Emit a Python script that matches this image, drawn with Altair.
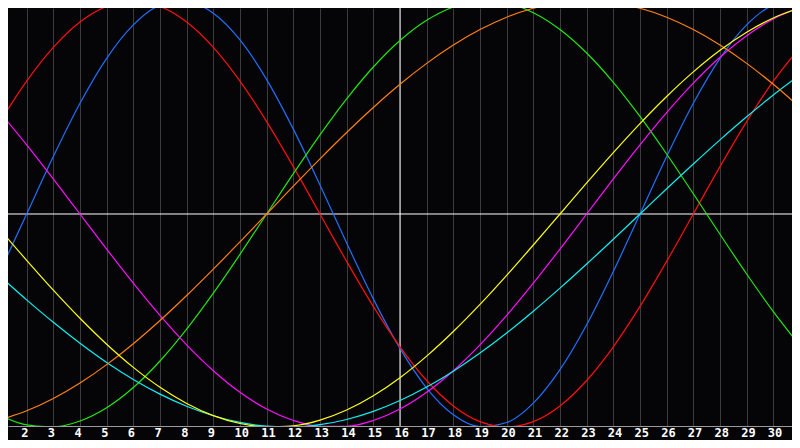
import altair as alt
import pandas as pd

days = list(range(1, 32))

blue = [-0.2698, 0.0, 0.2698, 0.5197, 0.7308, 0.8879, 0.9791, 0.9977, 0.9423, 0.8170,
        0.6311, 0.3984, 0.1362, -0.1362, -0.3984, -0.6311, -0.8170, -0.9423, -0.9977, -0.9791,
        -0.8879, -0.7308, -0.5197, -0.2698, 0.0, 0.2698, 0.5197, 0.7308, 0.8879, 0.9791, 0.9977]

red = [0.4339, 0.6235, 0.7818, 0.9010, 0.9749, 1.0, 0.9749, 0.9010, 0.7818, 0.6235,
       0.4339, 0.2225, 0.0, -0.2225, -0.4339, -0.6235, -0.7818, -0.9010, -0.9749, -1.0,
       -0.9749, -0.9010, -0.7818, -0.6235, -0.4339, -0.2225, 0.0, 0.2225, 0.4339, 0.6235, 0.7818]

green = [-0.9450, -0.9898, -0.9989, -0.9718, -0.9096, -0.8146, -0.6901, -0.5406, -0.3717, -0.1893,
         0.0, 0.1893, 0.3717, 0.5406, 0.6901, 0.8146, 0.9096, 0.9718, 0.9989, 0.9898,
         0.9450, 0.8660, 0.7557, 0.6182, 0.4582, 0.2817, 0.0951, -0.0951, -0.2817, -0.4582, -0.6182]

magenta = [0.4759, 0.3247, 0.1646, 0.0, -0.1646, -0.3247, -0.4759, -0.6142, -0.7357, -0.8372,
           -0.9158, -0.9694, -0.9966, -0.9966, -0.9694, -0.9158, -0.8372, -0.7357, -0.6142, -0.4759,
           -0.3247, -0.1646, 0.0, 0.1646, 0.3247, 0.4759, 0.6142, 0.7357, 0.8372, 0.9158, 0.9694]

yellow = [-0.0730, -0.2174, -0.3572, -0.4894, -0.6112, -0.7200, -0.8135, -0.8894, -0.9465, -0.9834,
          -0.9993, -0.9940, -0.9675, -0.9204, -0.8533, -0.7684, -0.6671, -0.5517, -0.4245, -0.2881,
          -0.1456, 0.0, 0.1456, 0.2881, 0.4245, 0.5517, 0.6671, 0.7684, 0.8533, 0.9204, 0.9675]

orange = [-0.9659, -0.9239, -0.8660, -0.7934, -0.7071, -0.6088, -0.5, -0.3827, -0.2588, -0.1305,
          0.0, 0.1305, 0.2588, 0.3827, 0.5, 0.6088, 0.7071, 0.7934, 0.8660, 0.9239,
          0.9659, 0.9914, 1.0, 0.9914, 0.9659, 0.9239, 0.8660, 0.7934, 0.7071, 0.6088, 0.5]

cyan = [-0.2921, -0.4031, -0.5085, -0.6069, -0.6970, -0.7767, -0.8457, -0.9028, -0.9473, -0.9786,
        -0.9961, -0.9996, -0.9890, -0.9646, -0.9267, -0.8758, -0.8126, -0.7378, -0.6528, -0.5586,
        -0.4566, -0.3482, -0.2349, -0.1183, 0.0, 0.1183, 0.2349, 0.3482, 0.4566, 0.5586, 0.6528]

tick_labels = list(range(2, 31))

series_names = ["blue", "red", "green", "magenta", "cyan", "orange", "yellow"]
series_values = [blue, red, green, magenta, cyan, orange, yellow]
series_colors = ["#2070ff", "#ff1010", "#22e810", "#ff10ff", "#10f0f0", "#ff8010", "#ffff10"]

rows = []
for name, vals in zip(series_names, series_values):
    for d, v in zip(days, vals):
        rows.append({"day": d, "value": v, "series": name})
df = pd.DataFrame(rows)

x_scale = alt.Scale(domain=[1.3, 30.7], nice=False, zero=False)
y_scale = alt.Scale(domain=[-0.9953, 0.9671], nice=False, zero=False)

x_axis = alt.Axis(
    values=tick_labels, grid=True, gridColor="#3c3c3c", gridWidth=1,
    domain=True, domainColor="#9a9a9a", ticks=False,
    labelColor="#ffffff", labelFont="DejaVu Sans Mono", labelFontWeight="bold",
    labelFontSize=12, labelAlign="left", labelOffset=-6, labelPadding=1,
    labelBaseline="top", labelOverlap=False, labelFlush=False, title=None,
)

base_x = alt.X("day:Q", scale=x_scale, axis=x_axis)

vrule = alt.Chart(pd.DataFrame({"day": [16]})).mark_rule(color="#ffffff", strokeWidth=1).encode(
    x=alt.X("day:Q", scale=x_scale, axis=x_axis)
)
hrule = alt.Chart(pd.DataFrame({"value": [0.0]})).mark_rule(color="#ffffff", strokeWidth=1).encode(
    y=alt.Y("value:Q", scale=y_scale, axis=None)
)

lines = alt.Chart(df).mark_line(strokeWidth=1.2, interpolate="monotone", clip=True).encode(
    x=base_x,
    y=alt.Y("value:Q", scale=y_scale, axis=None),
    color=alt.Color("series:N", scale=alt.Scale(domain=series_names, range=series_colors), legend=None),
    order=alt.Order("day:Q"),
)

chart = alt.layer(vrule, hrule, lines).properties(
    width=784, height=418,
    background="#050508",
    autosize=alt.AutoSizeParams(type="none"),
    padding={"left": 0, "top": 0, "right": 0, "bottom": 14},
).configure_view(stroke=None)

chart.save("out.html", embed_options={"renderer": "svg", "actions": False})
